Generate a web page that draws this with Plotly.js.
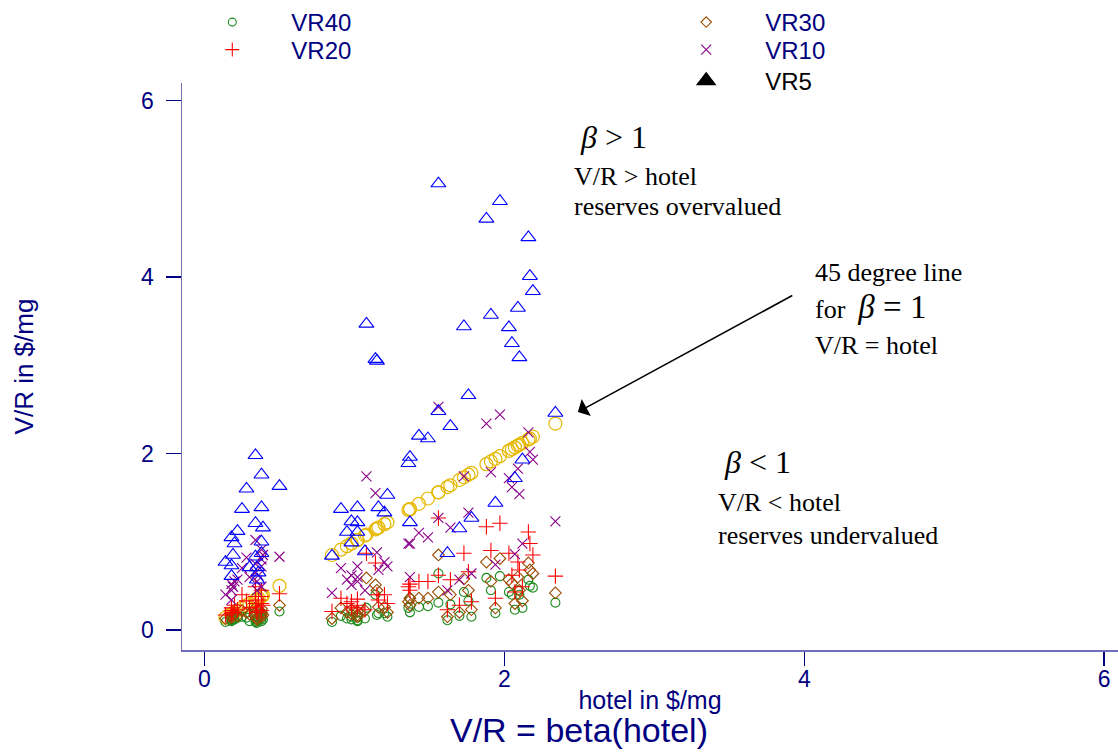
<!DOCTYPE html>
<html>
<head>
<meta charset="utf-8">
<script src="https://cdn.plot.ly/plotly-3.0.1.min.js"></script>
<style>html,body{margin:0;padding:0;background:#fff}#chart{width:1118px;height:752px}</style>
</head>
<body>
<div id="chart"></div>
<script>
// hotel cost in $/mg (x) for each site
const hotel = [
  0.14,0.18,0.18,0.18,0.19,0.20,0.22,0.25,0.28,0.30,0.34,0.34,0.34,0.35,0.35,0.36,0.38,0.38,0.38,0.38,0.39,0.50,
  0.85,0.91,0.95,0.98,0.98,1.02,1.02,1.02,1.07,1.08,1.14,1.15,1.16,1.20,1.22,
  1.36,1.37,1.37,1.43,1.49,1.56,1.56,1.62,1.64,1.70,1.73,1.76,1.78,1.88,1.91,1.94,1.97,2.03,2.05,2.07,2.09,2.10,2.12,2.16,2.17,2.19,2.34
];
// V/R in $/mg for each V/R ratio
const vr5 = [
  0.77,0.73,0.61,1.05,0.85,0.98,1.12,1.37,1.60,0.71,1.98,1.21,0.83,0.71,0.57,0.65,1.76,1.39,1.00,0.87,1.16,1.63,
  0.84,1.37,1.11,1.23,0.99,1.39,1.22,1.11,0.89,3.47,3.07,3.05,1.39,1.33,1.53,
  1.89,1.96,1.22,2.20,2.17,2.48,5.06,0.87,2.31,1.15,3.44,2.66,1.27,4.66,3.57,1.44,4.86,3.43,3.25,1.72,3.65,3.09,1.93,4.45,4.01,3.84,2.46
];
const vr10 = [
  0.40,0.34,0.45,0.52,0.49,0.55,0.57,0.70,0.82,0.60,1.02,0.75,0.65,0.55,0.45,0.62,0.91,0.72,0.49,0.80,0.85,0.83,
  0.42,0.70,0.57,0.51,0.62,0.72,0.60,0.55,0.45,1.74,1.55,0.88,0.68,0.77,0.72,
  0.98,0.60,0.98,1.10,1.05,2.53,1.27,0.45,1.16,0.57,1.74,1.33,0.64,2.34,1.79,0.74,2.44,1.72,1.62,0.86,1.83,1.54,0.98,2.24,2.02,1.93,1.23
];
const vr20 = [
  0.17,0.19,0.25,0.22,0.20,0.28,0.23,0.40,0.33,0.25,0.49,0.38,0.30,0.26,0.20,0.34,0.45,0.30,0.22,0.38,0.28,0.41,
  0.21,0.36,0.30,0.32,0.26,0.35,0.28,0.25,0.23,0.87,0.76,0.40,0.34,0.40,0.30,
  0.49,0.45,0.52,0.55,0.55,1.27,0.62,0.23,0.57,0.28,0.87,0.66,0.32,1.17,0.90,0.36,1.21,0.87,0.62,0.43,0.77,0.68,0.49,1.11,0.98,0.85,0.61
];
const vr30 = [
  0.13,0.14,0.16,0.15,0.17,0.18,0.16,0.22,0.20,0.18,0.25,0.20,0.16,0.14,0.12,0.22,0.24,0.18,0.15,0.20,0.17,0.28,
  0.13,0.25,0.20,0.23,0.18,0.21,0.17,0.15,0.22,0.59,0.51,0.45,0.26,0.26,0.20,
  0.32,0.28,0.36,0.36,0.36,0.85,0.43,0.15,0.40,0.20,0.58,0.45,0.23,0.77,0.55,0.25,0.81,0.57,0.53,0.30,0.60,0.45,0.33,0.76,0.68,0.64,0.42
];
const vr40 = [
  0.09,0.10,0.12,0.11,0.13,0.12,0.14,0.15,0.14,0.10,0.16,0.12,0.09,0.10,0.08,0.14,0.17,0.13,0.10,0.15,0.12,0.21,
  0.09,0.16,0.13,0.15,0.12,0.14,0.11,0.10,0.13,0.25,0.40,0.17,0.19,0.19,0.15,
  0.25,0.20,0.36,0.26,0.27,0.64,0.31,0.11,0.29,0.16,0.43,0.33,0.15,0.59,0.45,0.19,0.61,0.43,0.40,0.23,0.45,0.40,0.25,0.57,0.50,0.48,0.31
];
const xTicks = [0, 2, 4, 6];
const yTicks = [0, 2, 4, 6];

const NAVY = '#000080';
const SANS = 'Liberation Sans, Arial, sans-serif';
const SERIF = 'Liberation Serif, Times New Roman, serif';

const series = [
  {name: 'VR40', y: vr40, symbol: 'circle-open', color: '#1a8a1a', size: 9, lsym: 'circle-open', lsize: 8, legend: 'legend'},
  {name: 'VR30', y: vr30, symbol: 'diamond-open', color: '#9a4a00', size: 9, lsym: 'diamond-open', lsize: 8, legend: 'legend3'},
  {name: 'VR20', y: vr20, symbol: 'cross-thin-open', color: '#ff0000', size: 11, lsym: 'cross-thin-open', lsize: 10, legend: 'legend2'},
  {name: 'VR10', y: vr10, symbol: 'x-thin-open', color: '#8a008a', size: 10, lsym: 'x-thin-open', lsize: 10, legend: 'legend4'},
  {name: 'VR5', y: vr5, symbol: 'triangle-up-open', color: '#0000ff', size: 13, lsym: 'triangle-up', lsize: 16, legend: 'legend5', lcolor: '#000000'}
];

const traces = [];
// 45 degree line points (beta = 1): V/R equal to hotel
traces.push({
  x: hotel, y: hotel, type: 'scatter', mode: 'markers', showlegend: false, hoverinfo: 'skip',
  marker: {symbol: 'circle-open', size: 13, color: '#e6b800', line: {width: 1.2, color: '#e6b800'}}
});
series.forEach(s => {
  traces.push({
    x: hotel, y: s.y, type: 'scatter', mode: 'markers', name: s.name, showlegend: false,
    marker: {symbol: s.symbol, size: s.size, color: s.color, line: {width: 1.1, color: s.color}}
  });
});
// legend entries
series.forEach(s => {
  const c = s.lcolor || s.color;
  traces.push({
    x: [null], y: [null], type: 'scatter', mode: 'markers', name: s.name, legend: s.legend, showlegend: true,
    marker: {symbol: s.lsym, size: s.lsize, color: c, line: {width: 1.1, color: c}}
  });
});

function legendAt(xp, yp, color) {
  return {x: xp, y: yp, xanchor: 'left', yanchor: 'middle', bgcolor: 'rgba(0,0,0,0)', borderwidth: 0,
    itemwidth: 108, font: {family: SANS, size: 24, color: color}, itemclick: false, itemdoubleclick: false};
}

const ann = (x, y, text, size) => ({x: x, y: y, xref: 'x', yref: 'y', text: text, showarrow: false,
  xanchor: 'left', yanchor: 'middle', font: {family: SERIF, size: size, color: '#000'}});

const layout = {
  width: 1118, height: 752,
  margin: {l: 181.7, r: 0, t: 83, b: 102, pad: 0},
  paper_bgcolor: '#fff', plot_bgcolor: '#fff',
  font: {family: SANS, color: NAVY},
  title: {text: 'V/R = beta(hotel)', font: {family: SANS, size: 34, color: NAVY},
    x: 579 / 1118, xanchor: 'center', y: 0.029, yanchor: 'middle'},
  xaxis: {range: [-0.15, 6.092], tickvals: xTicks, ticktext: xTicks.map(String), showgrid: false, zeroline: false,
    showline: true, linecolor: '#7070b8', linewidth: 1.5, ticks: 'outside', ticklen: 14, tickwidth: 1.5, tickcolor: NAVY,
    tickfont: {family: SANS, size: 23, color: NAVY}, ticklabelstandoff: -6,
    title: {text: 'hotel in $/mg', font: {family: SANS, size: 25, color: NAVY}, standoff: 0}},
  yaxis: {range: [-0.227, 6.2], tickvals: yTicks, ticktext: yTicks.map(String), showgrid: false, zeroline: false,
    showline: true, linecolor: '#7070b8', linewidth: 1.5, ticks: 'outside', ticklen: 15, tickwidth: 1.5, tickcolor: NAVY,
    tickfont: {family: SANS, size: 23, color: NAVY}, ticklabelstandoff: 7,
    title: {text: 'V/R in $/mg', font: {family: SANS, size: 26, color: NAVY}, standoff: 100}},
  legend: legendAt(-0.0093, 1.1076, NAVY),
  legend2: legendAt(-0.0093, 1.0582, NAVY),
  legend3: legendAt(0.497, 1.1076, NAVY),
  legend4: legendAt(0.497, 1.0582, NAVY),
  legend5: legendAt(0.497, 1.0035, '#000000'),
  annotations: [
    ann(2.49, 5.59, '<i>β</i> &gt; 1', 32),
    ann(2.45, 5.14, 'V/R &gt; hotel', 26),
    ann(2.45, 4.80, 'reserves overvalued', 26),
    ann(4.06, 4.05, '45 degree line', 26),
    ann(4.06, 3.66, 'for  <span style="font-size:33px"><i>β</i> = 1</span>', 26),
    ann(4.06, 3.22, 'V/R = hotel', 26),
    ann(3.45, 1.90, '<i>β</i> &lt; 1', 32),
    ann(3.41, 1.44, 'V/R &lt; hotel', 26),
    ann(3.41, 1.07, 'reserves undervalued', 26),
    {x: 2.49, y: 2.47, xref: 'x', yref: 'y', ax: 3.93, ay: 3.80, axref: 'x', ayref: 'y', text: '',
      showarrow: true, arrowhead: 1, arrowsize: 2, arrowwidth: 1.6, arrowcolor: '#000', standoff: 0}
  ]
};

Plotly.newPlot('chart', traces, layout, {displayModeBar: false, staticPlot: true});
</script>
</body>
</html>
